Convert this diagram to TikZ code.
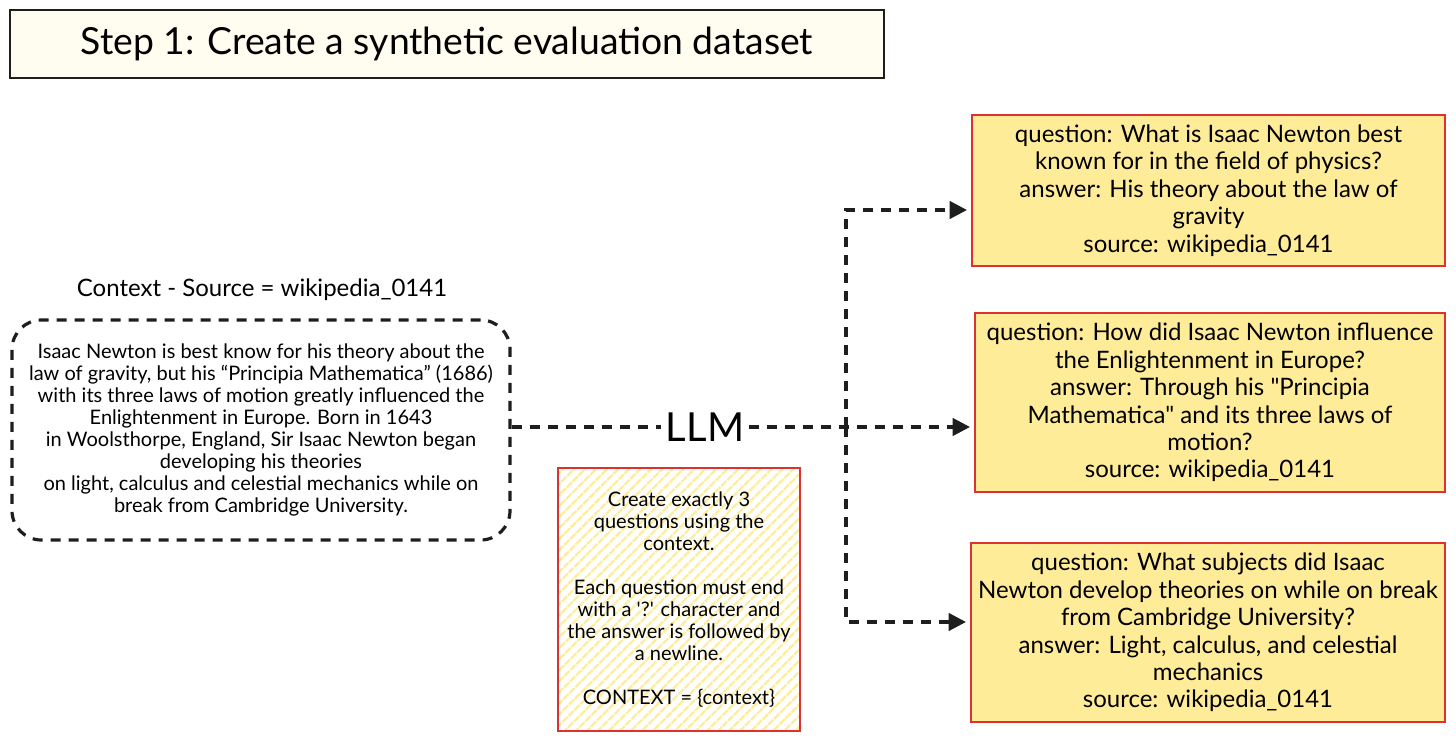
\documentclass[tikz,border=0pt]{standalone}
\usepackage{fontspec}
\newfontfamily\handfont{Lato}
\usetikzlibrary{arrows.meta,patterns.meta}

\definecolor{exred}{HTML}{E03131}
\definecolor{exyellow}{HTML}{FFEC99}
\definecolor{exink}{HTML}{1E1E1E}
\definecolor{excream}{HTML}{FFFDF0}

\tikzset{every picture/.style={line width=0.75pt}}
\tikzset{
	flow/.style={draw=exink, line width=2.4pt, dash pattern=on 7.5pt off 6pt},
	flowtip/.style={-{Triangle[length=13pt,width=13pt]}, shorten >=3pt},
	qbox/.style={draw=exred, line width=1.5pt, fill=exyellow, align=center, inner sep=0pt, font=\handfont\fontsize{18}{20.6}\selectfont},
	small/.style={align=center, font=\handfont\fontsize{15}{16.5}\selectfont},
}

\begin{document}
\begin{tikzpicture}[x=0.75pt,y=0.75pt,yscale=-1]
	\useasboundingbox (0,0) rectangle (1456,741);

	%Shape: Rectangle (title)
	\node [draw=exink, line width=1.5pt, fill=excream, minimum width=655.5pt, minimum height=51pt, font=\handfont\fontsize{28}{32}\selectfont] (title) at (447,44) {Step 1: Create a synthetic evaluation dataset};

	% Text Node
	\node [font=\handfont\fontsize{18}{20}\selectfont] (ctxlabel) at (262,290) {Context - Source = wikipedia\_0141};
	%Shape: Rounded Rectangle (context)
	\node [small, flow, rounded corners=22pt, minimum width=373.5pt, minimum height=165pt] (ctx) at (261,430) {Isaac Newton is best know for his theory about the\\
law of gravity, but his “Principia Mathematica” (1686)\\
with its three laws of motion greatly influenced the\\
Enlightenment in Europe. Born in 1643\\
in Woolsthorpe, England, Sir Isaac Newton began\\
developing his theories\\
on light, calculus and celestial mechanics while on\\
break from Cambridge University.};

	%Shape: Rectangle (prompt)
	\node [small, draw=exred, line width=1.5pt, pattern={Lines[angle=45,distance=6.5pt,line width=2pt]}, pattern color=exyellow, minimum width=181.5pt, minimum height=197.25pt] (prompt) at (679,599.5) {Create exactly 3\\
questions using the\\
context.\\[16.5pt]
Each question must end\\
with a '?' character and\\
the answer is followed by\\
a newline.\\[16.5pt]
CONTEXT = \{context\}};

	%Shape: Rectangle (answers)
	\node [qbox, minimum width=354.75pt, minimum height=113.25pt] (q1) at (1208.5,190.5) {question: What is Isaac Newton best\\
known for in the field of physics?\\
answer: His theory about the law of\\
gravity\\
source: wikipedia\_0141};
	\node [qbox, minimum width=352.5pt, minimum height=134.25pt] (q2) at (1210,402.5) {question: How did Isaac Newton influence\\
the Enlightenment in Europe?\\
answer: Through his "Principia\\
Mathematica" and its three laws of\\
motion?\\
source: wikipedia\_0141};
	\node [qbox, minimum width=355.5pt, minimum height=134.25pt] (q3) at (1208,632.5) {question: What subjects did Isaac\\
Newton develop theories on while on break\\
from Cambridge University?\\
answer: Light, calculus, and celestial\\
mechanics\\
source: wikipedia\_0141};

	% Text Node
	\node [fill=white, inner sep=3pt, font=\handfont\fontsize{30}{34}\selectfont] (llm) at (705,427) {LLM};

	%Straight Lines (connectors)
	\coordinate (split) at (846,427);
	\coordinate (up) at (846,210);
	\coordinate (down) at (846,622);
	\draw [flow] (ctx.east |- llm) -- (llm);
	\draw [flow, flowtip] (llm) -- (llm -| q2.west);
	\draw [flow, flowtip] (split) |- (up -| q1.west);
	\draw [flow, flowtip] (split) |- (down -| q3.west);

\end{tikzpicture}
\end{document}
